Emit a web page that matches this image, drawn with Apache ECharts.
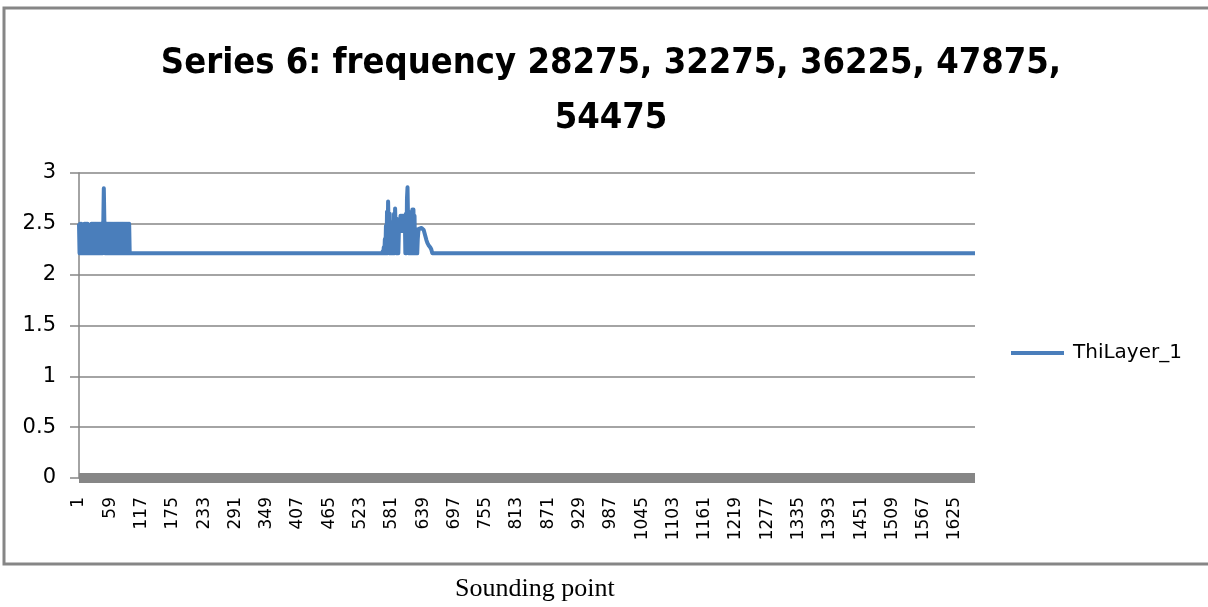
<!DOCTYPE html>
<html>
<head>
<meta charset="utf-8">
<script src="https://cdn.jsdelivr.net/npm/echarts@6/dist/echarts.min.js"></script>
<style>
html,body{margin:0;padding:0;background:#fff;}
#chart{width:1208px;height:607px;}
</style>
</head>
<body>
<div id="chart"></div>
<script>
// ---- data ----
const titleText = 'Series 6: frequency 28275, 32275, 36225, 47875,\n54475';
const seriesName = 'ThiLayer_1';
const xAxisName = 'Sounding point';
const pointCount = 1662;          // sounding points 1..1662
const baseLevel = 2.21;           // flat level of the layer
const yTicks = [0, 0.5, 1, 1.5, 2, 2.5, 3];
// first burst, starting at sounding point 1
const leftBurstStart = 0;
const leftBurst = [
  2.5, 2.21, 2.5, 2.21, 2.5, 2.21, 2.36, 2.21, 2.36, 2.21,
  2.5, 2.21, 2.5, 2.21, 2.5, 2.21, 2.5, 2.21, 2.21, 2.37,
  2.21, 2.37, 2.21, 2.5, 2.21, 2.5, 2.21, 2.5, 2.21, 2.5,
  2.21, 2.5, 2.21, 2.5, 2.21, 2.5, 2.21, 2.5, 2.21, 2.5,
  2.21, 2.5, 2.21, 2.5, 2.21, 2.5, 2.85, 2.85, 2.21, 2.5,
  2.21, 2.5, 2.21, 2.5, 2.21, 2.5, 2.21, 2.5, 2.21, 2.5,
  2.21, 2.5, 2.21, 2.5, 2.21, 2.5, 2.21, 2.5, 2.21, 2.5,
  2.21, 2.5, 2.21, 2.5, 2.21, 2.5, 2.21, 2.5, 2.21, 2.5,
  2.21, 2.5, 2.21, 2.5, 2.21, 2.5, 2.21, 2.5, 2.21, 2.5,
  2.21, 2.5, 2.21, 2.5, 2.21
];
// second burst, starting at sounding point 563
const midBurstStart = 562;
const midBurst = [
  2.21, 2.23, 2.21, 2.27, 2.21, 2.35, 2.21, 2.48, 2.21, 2.62,
  2.21, 2.72, 2.72, 2.21, 2.6, 2.21, 2.21, 2.21, 2.45, 2.21,
  2.52, 2.21, 2.6, 2.21, 2.65, 2.65, 2.21, 2.55, 2.21, 2.47,
  2.21, 2.43, 2.52, 2.43, 2.58, 2.43, 2.58, 2.43, 2.58, 2.45,
  2.58, 2.43, 2.58, 2.21, 2.6, 2.21, 2.75, 2.86, 2.86, 2.21,
  2.45, 2.21, 2.55, 2.21, 2.62, 2.21, 2.64, 2.21, 2.64, 2.21,
  2.58, 2.21, 2.45, 2.21, 2.3, 2.21, 2.35, 2.42, 2.45, 2.46,
  2.46, 2.46, 2.46, 2.46, 2.45, 2.45, 2.45, 2.44, 2.42, 2.4,
  2.38, 2.36, 2.34, 2.33, 2.31, 2.3, 2.29, 2.28, 2.28, 2.27,
  2.26, 2.25, 2.23, 2.21
];

// ---- build series from the arrays ----
const categories = [];
const values = [];
for (let i = 0; i < pointCount; i++) {
  categories.push(String(i + 1));
  values.push(baseLevel);
}
leftBurst.forEach((v, k) => { values[leftBurstStart + k] = v; });
midBurst.forEach((v, k) => { values[midBurstStart + k] = v; });

const gray = '#868686';
const blue = '#4a7ebb';

const chart = echarts.init(document.getElementById('chart'), null, {renderer: 'canvas'});
chart.setOption({
  animation: false,
  backgroundColor: '#ffffff',
  title: {
    text: titleText,
    left: 611,
    textAlign: 'center',
    top: 36,
    padding: 0,
    textStyle: {
      fontFamily: "'DejaVu Sans Condensed', 'Liberation Sans', sans-serif",
      fontWeight: 'bold',
      fontSize: 36,
      lineHeight: 55,
      color: '#000'
    }
  },
  legend: {
    left: 1011,
    top: 343,
    orient: 'vertical',
    icon: 'rect',
    itemWidth: 53,
    itemHeight: 4,
    padding: 0,
    textStyle: {
      fontFamily: "'DejaVu Sans', sans-serif",
      fontSize: 20,
      color: '#000',
      padding: [0, 0, 0, 4]
    },
    data: [seriesName]
  },
  grid: {left: 79, right: 233, top: 173, bottom: 129, containLabel: false},
  xAxis: {
    type: 'category',
    data: categories,
    boundaryGap: false,
    offset: 5,
    axisLine: {show: true, lineStyle: {color: gray, width: 10, cap: 'butt'}},
    axisTick: {show: false},
    axisLabel: {
      interval: 57,
      rotate: 90,
      margin: 14,
      fontFamily: "'DejaVu Sans', sans-serif",
      fontSize: 17,
      color: '#000'
    },
    splitLine: {show: false}
  },
  yAxis: {
    type: 'value',
    min: yTicks[0],
    max: yTicks[yTicks.length - 1],
    interval: yTicks[1] - yTicks[0],
    axisLine: {show: true, lineStyle: {color: gray, width: 1.5}},
    axisTick: {show: true, length: 9, lineStyle: {color: gray, width: 1.5}},
    axisLabel: {
      margin: 23,
      fontFamily: "'DejaVu Sans', sans-serif",
      fontSize: 21,
      color: '#000'
    },
    splitLine: {show: true, lineStyle: {color: gray, width: 1.5}}
  },
  series: [{
    name: seriesName,
    type: 'line',
    data: values,
    showSymbol: false,
    symbol: 'none',
    sampling: null,
    lineStyle: {color: blue, width: 4, join: 'round'},
    itemStyle: {color: blue},
    z: 3
  }],
  graphic: [
    {
      type: 'rect',
      shape: {x: 4, y: 8, width: 1210, height: 556},
      style: {fill: null, stroke: gray, lineWidth: 3},
      silent: true,
      z: -1
    },
    {
      type: 'text',
      left: 455,
      top: 576,
      style: {
        text: xAxisName,
        fontFamily: "'Liberation Serif', 'Times New Roman', serif",
        fontSize: 26,
        fill: '#000'
      }
    }
  ]
});
</script>
</body>
</html>
